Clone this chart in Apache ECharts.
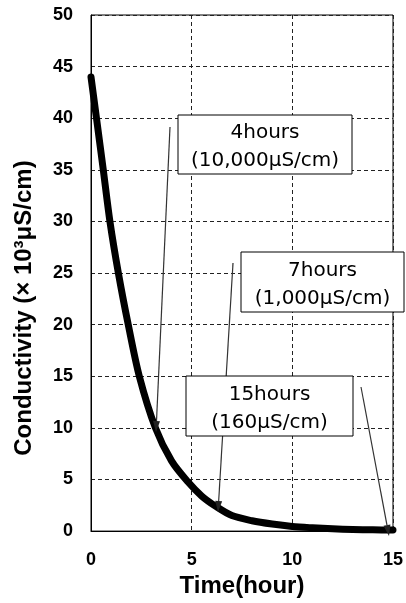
<!DOCTYPE html>
<html>
<head>
<meta charset="utf-8">
<script src="https://cdn.jsdelivr.net/npm/echarts@6/dist/echarts.min.js"></script>
<style>html,body{margin:0;padding:0;background:#fff}#c{width:406px;height:603px}</style>
</head>
<body>
<div id="c"></div>
<script>
const times = [0, 0.3, 0.61, 0.94, 1.36, 1.85, 2.4, 3.2, 4.0, 4.8, 5.5, 6.2, 7.0, 8.0, 9.0, 10, 11, 12, 13, 14, 15];
const conductivity = [44, 39.6, 35, 30, 25, 20, 15, 10, 6.8, 4.8, 3.4, 2.4, 1.5, 1.0, 0.68, 0.45, 0.32, 0.22, 0.16, 0.12, 0.1];
const xTicks = [0, 5, 10, 15];
const yTicks = [0, 5, 10, 15, 20, 25, 30, 35, 40, 45, 50];
const xTitle = 'Time(hour)';
const yTitle = 'Conductivity (× 10³μS/cm)';
const noteLabels = [['4hours', '(10,000μS/cm)'], ['7hours', '(1,000μS/cm)'], ['15hours', '(160μS/cm)']];

// annotation layout (pixels): box [x,y,w,h], arrow from -> to
const noteLayout = [
  {box: [178, 115, 174, 59], from: [170, 127], to: [156, 432]},
  {box: [241, 252, 163, 60], from: [233, 263], to: [218, 512]},
  {box: [186, 376, 167, 60], from: [361, 387], to: [389, 536]}
];

const chart = echarts.init(document.getElementById('c'), null, {renderer: 'canvas'});
const labelFont = {fontFamily: 'Liberation Sans, Arial, sans-serif', fontWeight: 'bold', fontSize: 18, color: '#000'};
const gridLine = {show: true, lineStyle: {color: '#222', width: 1, type: [4, 3]}};

const graphics = [];
noteLayout.forEach(function (n) {
  const [x1, y1] = n.from, [x2, y2] = n.to;
  const dx = x2 - x1, dy = y2 - y1, len = Math.sqrt(dx * dx + dy * dy);
  const ux = dx / len, uy = dy / len;
  const L = 11, W = 3.5;
  const bx = x2 - ux * L, by = y2 - uy * L;
  graphics.push({type: 'line', z: 50, shape: {x1: x1, y1: y1, x2: bx, y2: by}, style: {stroke: '#333', lineWidth: 1.2}});
  graphics.push({type: 'polygon', z: 50, shape: {points: [[x2, y2], [bx - uy * W, by + ux * W], [bx + uy * W, by - ux * W]]}, style: {fill: '#222'}});
});
noteLayout.forEach(function (n, i) {
  const [x, y, w, h] = n.box;
  graphics.push({type: 'rect', z: 60, shape: {x: x, y: y, width: w, height: h}, style: {fill: '#fff', stroke: '#000', lineWidth: 1}});
  graphics.push({type: 'text', z: 61, x: x + w / 2, y: y + h / 2 + 2.5,
    style: {text: noteLabels[i].join('\n'), fill: '#000', font: '20px "DejaVu Sans"', lineHeight: 28, align: 'center', verticalAlign: 'middle'}});
});

chart.setOption({
  animation: false,
  backgroundColor: '#fff',
  grid: {left: 91, right: 12.5, top: 15, bottom: 60, show: true, borderColor: '#000', borderWidth: 1, backgroundColor: 'transparent'},
  xAxis: {
    type: 'value', min: xTicks[0], max: xTicks[xTicks.length - 1], interval: 5,
    axisLine: {show: true, lineStyle: {color: '#000', width: 1}}, axisTick: {show: false},
    axisLabel: Object.assign({margin: 20}, labelFont),
    splitLine: gridLine,
    name: xTitle, nameLocation: 'middle', nameGap: 29,
    nameTextStyle: {fontFamily: 'Liberation Sans, Arial, sans-serif', fontWeight: 'bold', fontSize: 24, color: '#000'}
  },
  yAxis: {
    type: 'value', min: yTicks[0], max: yTicks[yTicks.length - 1], interval: 5,
    axisLine: {show: true, lineStyle: {color: '#000', width: 1}}, axisTick: {show: false},
    axisLabel: Object.assign({margin: 18}, labelFont),
    splitLine: gridLine,
    name: yTitle, nameLocation: 'middle', nameGap: 55, nameRotate: 90,
    nameTextStyle: {fontFamily: 'Liberation Sans, Arial, sans-serif', fontWeight: 'bold', fontSize: 24, color: '#000', padding: [0, 70, 0, 0]}
  },
  series: [{
    type: 'line', data: times.map(function (t, i) { return [t, conductivity[i]]; }),
    smooth: 0.3, showSymbol: false, symbol: 'none', z: 10,
    lineStyle: {color: '#000', width: 7, join: 'round', cap: 'round'}
  }],
  graphic: graphics
});
</script>
</body>
</html>
